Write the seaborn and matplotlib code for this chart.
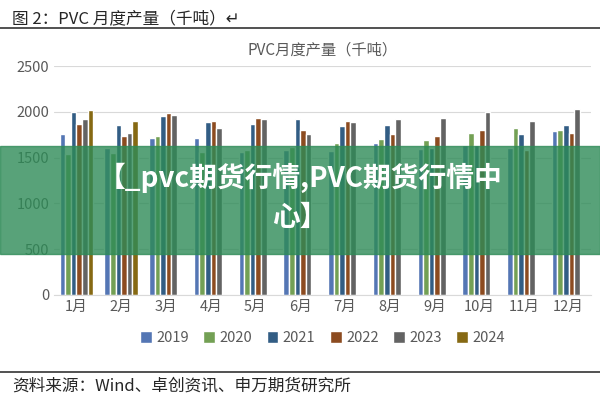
import pandas as pd
import numpy as np
import matplotlib
matplotlib.use("Agg")
import matplotlib.pyplot as plt
import seaborn as sns
from matplotlib.patches import Rectangle

months = ["1月", "2月", "3月", "4月", "5月", "6月", "7月", "8月", "9月", "10月", "11月", "12月"]
years = ["2019", "2020", "2021", "2022", "2023", "2024"]
v2019 = [1755, 1600, 1711, 1711, 1560, 1580, 1570, 1656, 1590, 1641, 1600, 1787]
v2020 = [1540, 1550, 1740, 1560, 1580, 1620, 1656, 1707, 1689, 1772, 1820, 1805]
v2021 = [2002, 1856, 1951, 1886, 1871, 1918, 1849, 1853, 1600, 1641, 1755, 1853]
v2022 = [1867, 1740, 1984, 1900, 1933, 1805, 1900, 1755, 1740, 1805, 1580, 1772]
v2023 = [1922, 1772, 1965, 1820, 1918, 1755, 1886, 1918, 1933, 1998, 1900, 2031]
v2024 = [2017, 1900] + [np.nan] * 10
colors = ["#4472C4", "#70AD47", "#255E91", "#9E480E", "#636363", "#997300"]

rows = []
for y, vals in zip(years, [v2019, v2020, v2021, v2022, v2023, v2024]):
    for m, v in zip(months, vals):
        rows.append({"month": m, "year": y, "value": v})
df = pd.DataFrame(rows)

sns.set_style("white")
plt.rcParams['font.family'] = ['Noto Sans CJK SC', 'DejaVu Sans']

fig = plt.figure(figsize=(6, 4), dpi=100)
ax = fig.add_axes([0.09, 0.2625, 0.895, 0.5725])
sns.barplot(data=df, x="month", y="value", hue="year", palette=colors,
            width=0.75, ax=ax, legend=True)
ax.set_ylim(0, 2500)
ax.set_yticks(range(0, 2501, 500))
ax.yaxis.grid(True, color="#d9d9d9", lw=0.8)
ax.set_axisbelow(True)
for s in ["top", "right", "left"]:
    ax.spines[s].set_visible(False)
ax.spines["bottom"].set_color("#d9d9d9")
ax.set_xlabel("")
ax.set_ylabel("")
ax.tick_params(labelsize=10.5, colors="#595959", length=0)
ax.set_title("PVC月度产量（千吨）", fontsize=11, color="#595959", pad=8)
ax.legend(loc="upper center", bbox_to_anchor=(0.5, -0.1), ncol=6, frameon=False,
          fontsize=10.5, handlelength=0.8, handleheight=0.8, columnspacing=1.0,
          handletextpad=0.3, labelcolor="#595959")

# header and footer
fig.text(0.02, 0.975, "图 2：PVC 月度产量（千吨）↵", fontsize=12, va="top",
         family=['Noto Sans CJK SC', 'DejaVu Sans'])
fig.add_artist(plt.Line2D([0.0, 1.0], [0.93, 0.93], color="#333333", lw=1.2))
fig.add_artist(plt.Line2D([0.0, 1.0], [0.07, 0.07], color="#333333", lw=1.2))
fig.text(0.02, 0.035, "资料来源：Wind、卓创资讯、申万期货研究所", fontsize=12, va="center")

# overlay banner
fig.add_artist(Rectangle((0, 0.365), 1, 0.27, transform=fig.transFigure,
                         color="#2e8b57", alpha=0.8, zorder=10))
fig.text(0.5, 0.555, "【_pvc期货行情,PVC期货行情中", fontsize=20, weight="bold",
         color="white", ha="center", va="center", zorder=11)
fig.text(0.5, 0.455, "心】", fontsize=20, weight="bold",
         color="white", ha="center", va="center", zorder=11)

fig.savefig("out.png", dpi=100)
